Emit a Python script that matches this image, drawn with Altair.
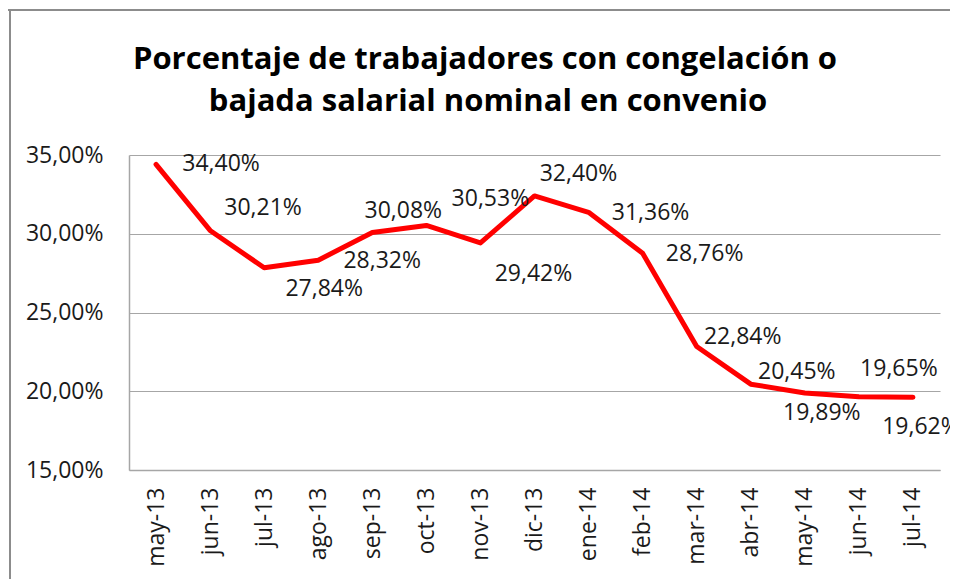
import altair as alt
import pandas as pd

months = ["may-13", "jun-13", "jul-13", "ago-13", "sep-13", "oct-13", "nov-13",
          "dic-13", "ene-14", "feb-14", "mar-14", "abr-14", "may-14", "jun-14", "jul-14"]
values = [34.40, 30.21, 27.84, 28.32, 30.08, 30.53, 29.42,
          32.40, 31.36, 28.76, 22.84, 20.45, 19.89, 19.65, 19.62]

title_lines = ["Porcentaje de trabajadores con congelación o",
               "bajada salarial nominal en convenio"]

df = pd.DataFrame({"month": months, "value": values})
df["label"] = [f"{v:.2f}".replace(".", ",") + "%" for v in values]

FONT = "Open Sans"
TXT = "#1a1a1a"
GRID = "#a6a6a6"

# label placement (style): offset of each label's centre from its point, in px
placement = {
    "may-13": (65, 0), "jun-13": (53, -22), "jul-13": (60, 21), "ago-13": (64, 1),
    "sep-13": (31, -21), "oct-13": (64, -26), "nov-13": (53, 31), "dic-13": (44, -22),
    "ene-14": (62, 1), "feb-14": (62, 1), "mar-14": (46, -10), "abr-14": (46, -12),
    "may-14": (17, 20), "jun-14": (40, -28), "jul-14": (8, 30),
}

x_enc = alt.X("month:N", sort=months, scale=alt.Scale(type="point", padding=0.5),
              axis=alt.Axis(title=None, labelAngle=-90, labelFont=FONT, labelFontSize=23,
                            labelColor=TXT, labelPadding=17, ticks=False,
                            domainColor=GRID, domainWidth=1.5, grid=False))
y_enc = alt.Y("value:Q", scale=alt.Scale(domain=[15, 35], nice=False, zero=False),
              axis=alt.Axis(title=None, values=[15, 20, 25, 30, 35],
                            labelExpr="replace(format(datum.value, '.2f'), '.', ',') + '%'",
                            labelFont=FONT, labelFontSize=23, labelColor=TXT,
                            labelPadding=26, ticks=False, domainColor=GRID, domainWidth=1.5,
                            grid=True, gridColor=GRID, gridWidth=1.2))

base = alt.Chart(df)
line = base.mark_line(color="#ff0000", strokeWidth=5, strokeJoin="round",
                      strokeCap="round").encode(x=x_enc, y=y_enc)

texts = []
for m in months:
    dx, dy = placement[m]
    texts.append(
        base.transform_filter(alt.datum.month == m)
        .mark_text(font=FONT, fontSize=23, color=TXT, align="center",
                   baseline="middle", dx=dx, dy=dy)
        .encode(x=alt.X("month:N", sort=months), y="value:Q", text="label:N")
    )

title_df = pd.DataFrame({"t": title_lines})
title1 = alt.Chart(title_df).transform_filter(alt.datum.t == title_lines[0]).mark_text(
    font=FONT, fontSize=31, fontWeight="bold", color="#000000",
    align="center", baseline="alphabetic").encode(
    text="t:N", x=alt.value(356), y=alt.value(-86))
title2 = alt.Chart(title_df).transform_filter(alt.datum.t == title_lines[1]).mark_text(
    font=FONT, fontSize=31, fontWeight="bold", color="#000000",
    align="center", baseline="alphabetic").encode(
    text="t:N", x=alt.value(359), y=alt.value(-44))

one = alt.Chart(pd.DataFrame({"a": [0]}))
frame_top = one.mark_rule(color="#8c8c8c", strokeWidth=2).encode(
    x=alt.value(-121), x2=alt.value(840), y=alt.value(-145))
frame_left = one.mark_rule(color="#8c8c8c", strokeWidth=2).encode(
    x=alt.value(-119), y=alt.value(-145), y2=alt.value(430))

chart = alt.layer(frame_top, frame_left, line, *texts, title1, title2).properties(
    width=811, height=315,
    autosize=alt.AutoSizeParams(type="none"),
    padding={"left": 121, "top": 147, "right": 10, "bottom": 109},
).configure_view(stroke=None)

chart.save("out.html", embed_options={"renderer": "svg", "actions": False})
